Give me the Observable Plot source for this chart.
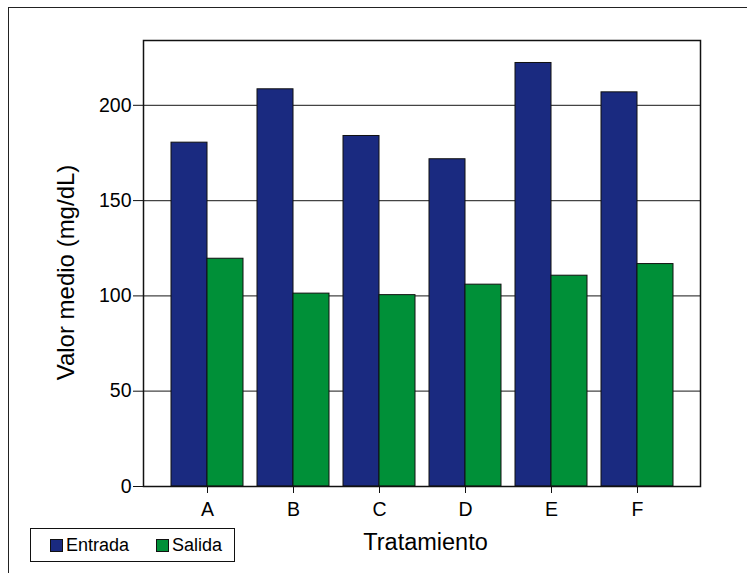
<!DOCTYPE html>
<html>
<head>
<meta charset="utf-8">
<script src="https://cdn.jsdelivr.net/npm/d3@7"></script>
<script src="https://cdn.jsdelivr.net/npm/@observablehq/plot@0.6"></script>
<style>
  html, body { margin: 0; padding: 0; background: #fff; }
  #wrap { position: relative; width: 747px; height: 573px; overflow: hidden; font-family: "Liberation Sans", Arial, sans-serif; }
  #outer { position: absolute; left: 8px; top: 7px; width: 760px; height: 600px; border-left: 1.5px solid #222; border-top: 1.5px solid #222; box-sizing: border-box; pointer-events: none; }
  #chart { position: absolute; left: 0; top: 0; }
  #legend { position: absolute; left: 30px; top: 528px; width: 205px; height: 34px; border: 1.5px solid #111; box-sizing: border-box; background: #fff; display: flex; align-items: center; padding-left: 19px; }
  .item { display: flex; align-items: center; font-size: 18px; color: #000; margin-right: 27px; }
  .sw { width: 13px; height: 13px; box-sizing: border-box; border: 1px solid #111; margin-right: 3px; }
</style>
</head>
<body>
<div id="wrap">
  <div id="chart"></div>
  <div id="outer"></div>
  <div id="legend"></div>
</div>
<script>
const categorias = ["A", "B", "C", "D", "E", "F"];
const entrada = [180.4, 208.4, 183.9, 171.7, 222.2, 206.8];
const salida = [119.5, 101.2, 100.4, 105.9, 110.6, 116.7];
const yTicks = [0, 50, 100, 150, 200];
const series = ["Entrada", "Salida"];
const colores = ["#1a2a80", "#009038"];

const rows = categorias.map((c, i) => ({ cat: c, entrada: entrada[i], salida: salida[i] }));

const W = 747, H = 573, mL = 143, mR = 47, mT = 40, mB = 87;
const pIn = 0.165, pOut = 0.313;
const step = (W - mL - mR) / (categorias.length - pIn + 2 * pOut);
const half = step * (1 - pIn) / 2;

const chart = Plot.plot({
  width: W, height: H,
  marginLeft: mL, marginRight: mR, marginTop: mT, marginBottom: mB,
  style: { fontFamily: "'Liberation Sans', Arial, sans-serif", background: "transparent", color: "#000" },
  x: { domain: categorias, paddingInner: pIn, paddingOuter: pOut },
  y: { domain: [0, 234] },
  marks: [
    Plot.gridY(yTicks.filter(t => t > 0), { stroke: "#444", strokeOpacity: 1, strokeWidth: 1.2 }),
    Plot.barY(rows, { x: "cat", y: "entrada", fill: colores[0], stroke: "#111", strokeWidth: 1, insetRight: half }),
    Plot.barY(rows, { x: "cat", y: "salida", fill: colores[1], stroke: "#111", strokeWidth: 1, insetLeft: half }),
    Plot.frame({ stroke: "#111", strokeWidth: 1.5 }),
    Plot.axisY(yTicks, { tickSize: 10, tickPadding: 2, fontSize: 19.5, label: null, stroke: "#111" }),
    Plot.axisX({ tickSize: 7, tickPadding: 9, fontSize: 19.5, label: null, stroke: "#111" }),
    Plot.text(["Valor medio (mg/dL)"], { frameAnchor: "left", textAnchor: "middle", lineAnchor: "middle", rotate: -90, dx: -77, dy: 9, fontSize: 24, fill: "#000" }),
    Plot.text(["Tratamiento"], { frameAnchor: "bottom", textAnchor: "middle", lineAnchor: "middle", dx: 3.5, dy: 56, fontSize: 23.5, fill: "#000" })
  ]
});
document.getElementById("chart").appendChild(chart);

const legend = document.getElementById("legend");
series.forEach((s, i) => {
  const it = document.createElement("div");
  it.className = "item";
  const sw = document.createElement("div");
  sw.className = "sw";
  sw.style.background = colores[i];
  const tx = document.createElement("span");
  tx.textContent = s;
  it.appendChild(sw);
  it.appendChild(tx);
  legend.appendChild(it);
});
</script>
</body>
</html>
